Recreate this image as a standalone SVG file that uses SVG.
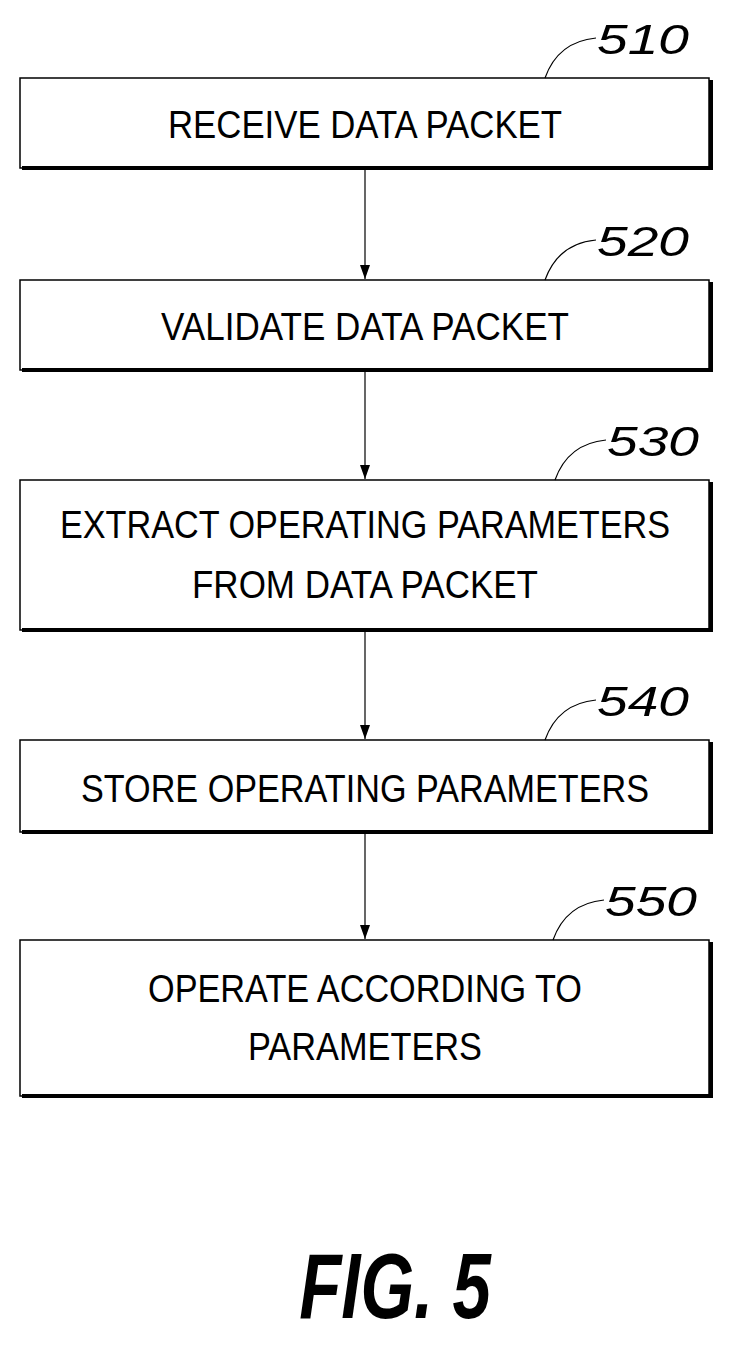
<svg xmlns="http://www.w3.org/2000/svg" width="734" height="1350" viewBox="0 0 734 1350">
<defs>
<style>
.box{fill:#fff;stroke:#000;stroke-width:1.5}
.sh{fill:none;stroke:#000;stroke-width:4}
.t{font-family:"Liberation Sans",Arial,sans-serif;font-size:38px;text-anchor:middle;fill:#000}
.ref{font-family:"Liberation Sans",Arial,sans-serif;font-size:42px;font-style:italic;fill:#000}
.ld{fill:none;stroke:#000;stroke-width:1.2}
.c{stroke:#000;stroke-width:1.2;fill:none;marker-end:url(#a)}
</style>
<marker id="a" markerWidth="14" markerHeight="10" refX="14" refY="5" orient="auto" markerUnits="userSpaceOnUse" viewBox="0 0 14 10"><path d="M0,0 L14,5 L0,10 Z" fill="#000"/></marker>
</defs>
<rect width="734" height="1350" fill="#fff"/>
<g id="n510"><rect class="box" x="20" y="78" width="689" height="90"/><path class="sh" d="M22,168 H711 V80"/><text class="t" x="365" y="138" textLength="394" lengthAdjust="spacingAndGlyphs">RECEIVE DATA PACKET</text><path class="ld" d="M545,78 C555,50 575,40 596,38"/><text class="ref" x="597" y="54" textLength="92" lengthAdjust="spacingAndGlyphs">510</text></g>
<g id="n520"><rect class="box" x="20" y="280" width="689" height="90"/><path class="sh" d="M22,370 H711 V282"/><text class="t" x="365" y="340" textLength="408" lengthAdjust="spacingAndGlyphs">VALIDATE DATA PACKET</text><path class="ld" d="M545,280 C555,252 575,242 596,240"/><text class="ref" x="597" y="256" textLength="92" lengthAdjust="spacingAndGlyphs">520</text></g>
<g id="n530"><rect class="box" x="20" y="480" width="689" height="150"/><path class="sh" d="M22,630 H711 V482"/><text class="t" x="365" y="538" textLength="610" lengthAdjust="spacingAndGlyphs">EXTRACT OPERATING PARAMETERS</text><text class="t" x="365" y="598" textLength="346" lengthAdjust="spacingAndGlyphs">FROM DATA PACKET</text><path class="ld" d="M555,480 C565,452 585,442 606,440"/><text class="ref" x="607" y="456" textLength="92" lengthAdjust="spacingAndGlyphs">530</text></g>
<g id="n540"><rect class="box" x="20" y="740" width="689" height="92"/><path class="sh" d="M22,832 H711 V742"/><text class="t" x="365" y="802" textLength="568" lengthAdjust="spacingAndGlyphs">STORE OPERATING PARAMETERS</text><path class="ld" d="M545,740 C555,712 575,702 596,700"/><text class="ref" x="597" y="716" textLength="92" lengthAdjust="spacingAndGlyphs">540</text></g>
<g id="n550"><rect class="box" x="20" y="940" width="689" height="156"/><path class="sh" d="M22,1096 H711 V942"/><text class="t" x="365" y="1002" textLength="434" lengthAdjust="spacingAndGlyphs">OPERATE ACCORDING TO</text><text class="t" x="365" y="1060" textLength="234" lengthAdjust="spacingAndGlyphs">PARAMETERS</text><path class="ld" d="M553,940 C563,912 583,902 604,900"/><text class="ref" x="605" y="916" textLength="92" lengthAdjust="spacingAndGlyphs">550</text></g>
<g id="connectors">
<line class="c" x1="365" y1="170" x2="365" y2="279"/>
<line class="c" x1="365" y1="372" x2="365" y2="479"/>
<line class="c" x1="365" y1="632" x2="365" y2="739"/>
<line class="c" x1="365" y1="834" x2="365" y2="939"/>
</g>
<text x="395" y="1318" style="font-family:'Liberation Sans',Arial,sans-serif;font-size:92px;font-weight:bold;font-style:italic;text-anchor:middle" transform="translate(395 1318) scale(0.75 1) translate(-395 -1318)">FIG. 5</text>
</svg>
